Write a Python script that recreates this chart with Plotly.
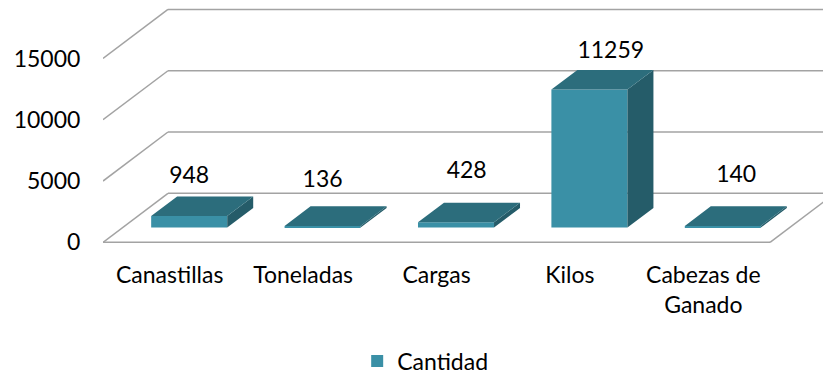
import plotly.graph_objects as go

# Data
categories = ["Canastillas", "Toneladas", "Cargas", "Kilos", "Cabezas de<br>Ganado"]
cantidad = [948, 136, 428, 11259, 140]
y_ticks = [0, 5000, 10000, 15000]
y_tick_text = ["0", "5000", "10000", "15000"]

# Oblique "3D" projection parameters (depth expressed in axis units)
DEPTH_X = 0.487      # horizontal shift of the back wall, in category units
DEPTH_Y = 4000       # vertical shift of the back wall, in value units
BAR_FRONT = 0.30     # bar front plane as a fraction of floor depth
BAR_DEPTH = 0.40     # bar thickness as a fraction of floor depth
BAR_WIDTH = 0.57

# Placement of each value label relative to its bar (x in category units, y in value units)
label_dx = [0.0, 0.0, 0.08, 0.16, 0.10]
label_dy = [4360, 4850, 5290, 4260, 5250]

FRONT_COLOR = "#3A90A6"
TOP_COLOR = "#2C6D7C"
SIDE_COLOR = "#255C69"
GRID_COLOR = "#A3A3A3"
FONT = "Lato"

X_MIN, X_MAX = -0.5, 4.897
Y_MIN, Y_MAX = -300, 19200

fig = go.Figure()

# Back wall gridlines, slanted side-wall lines and floor outline (behind the bars)
shapes = []
x_far = X_MAX + 1
for t in y_ticks:
    shapes.append(dict(type="line", xref="x", yref="y", layer="below",
                       x0=X_MIN, y0=t, x1=X_MIN + DEPTH_X, y1=t + DEPTH_Y,
                       line=dict(color=GRID_COLOR, width=1.5)))
    shapes.append(dict(type="line", xref="x", yref="y", layer="below",
                       x0=X_MIN + DEPTH_X, y0=t + DEPTH_Y, x1=x_far, y1=t + DEPTH_Y,
                       line=dict(color=GRID_COLOR, width=1.5)))
n = len(categories)
floor_right = n - 0.5
shapes.append(dict(type="line", xref="x", yref="y", layer="below",
                   x0=X_MIN, y0=0, x1=floor_right, y1=0,
                   line=dict(color=GRID_COLOR, width=1.5)))
shapes.append(dict(type="line", xref="x", yref="y", layer="below",
                   x0=floor_right, y0=0, x1=floor_right + DEPTH_X, y1=DEPTH_Y,
                   line=dict(color=GRID_COLOR, width=1.5)))

# Bar geometry derived from the data
base = BAR_FRONT * DEPTH_Y
centers = [i + BAR_FRONT * DEPTH_X for i in range(n)]
dx = BAR_DEPTH * DEPTH_X
dy = BAR_DEPTH * DEPTH_Y

# Front faces
fig.add_trace(go.Bar(
    x=centers, y=cantidad, base=base, width=BAR_WIDTH,
    marker=dict(color=FRONT_COLOR, line=dict(width=0)),
    name="Cantidad", hoverinfo="skip",
))

# Top and side faces
top_x, top_y, side_x, side_y = [], [], [], []
for xc, v in zip(centers, cantidad):
    xl, xr = xc - BAR_WIDTH / 2, xc + BAR_WIDTH / 2
    ytop = base + v
    top_x += [xl, xr, xr + dx, xl + dx, xl, None]
    top_y += [ytop, ytop, ytop + dy, ytop + dy, ytop, None]
    side_x += [xr, xr, xr + dx, xr + dx, xr, None]
    side_y += [base, ytop, ytop + dy, base + dy, base, None]

fig.add_trace(go.Scatter(x=side_x, y=side_y, mode="lines", fill="toself",
                         fillcolor=SIDE_COLOR, line=dict(width=0, color=SIDE_COLOR),
                         showlegend=False, hoverinfo="skip"))
fig.add_trace(go.Scatter(x=top_x, y=top_y, mode="lines", fill="toself",
                         fillcolor=TOP_COLOR, line=dict(width=0, color=TOP_COLOR),
                         showlegend=False, hoverinfo="skip"))

# Value labels above each bar
fig.add_trace(go.Scatter(
    x=[c + d for c, d in zip(centers, label_dx)],
    y=[v + d for v, d in zip(cantidad, label_dy)],
    mode="text", text=[str(v) for v in cantidad],
    textfont=dict(family=FONT, size=23, color="#000000"),
    showlegend=False, hoverinfo="skip", cliponaxis=False,
))

fig.update_layout(
    width=823, height=376,
    margin=dict(l=103, r=0, t=7, b=130),
    paper_bgcolor="white", plot_bgcolor="white",
    font=dict(family=FONT, size=23, color="#000000"),
    shapes=shapes,
    showlegend=True,
    legend=dict(orientation="h", xref="container", yref="container",
                x=0.434, xanchor="left", y=0.04, yanchor="middle",
                font=dict(family=FONT, size=23), bgcolor="rgba(0,0,0,0)"),
    xaxis=dict(range=[X_MIN, X_MAX], tickvals=list(range(n)), ticktext=categories,
               showgrid=False, zeroline=False, showline=False,
               ticks="outside", ticklen=8, tickcolor="rgba(0,0,0,0)",
               fixedrange=True),
    yaxis=dict(range=[Y_MIN, Y_MAX], tickvals=y_ticks, ticktext=y_tick_text,
               showgrid=False, zeroline=False, showline=False,
               ticks="outside", ticklen=17, tickcolor="rgba(0,0,0,0)",
               fixedrange=True),
)

fig.write_html("out.html")
